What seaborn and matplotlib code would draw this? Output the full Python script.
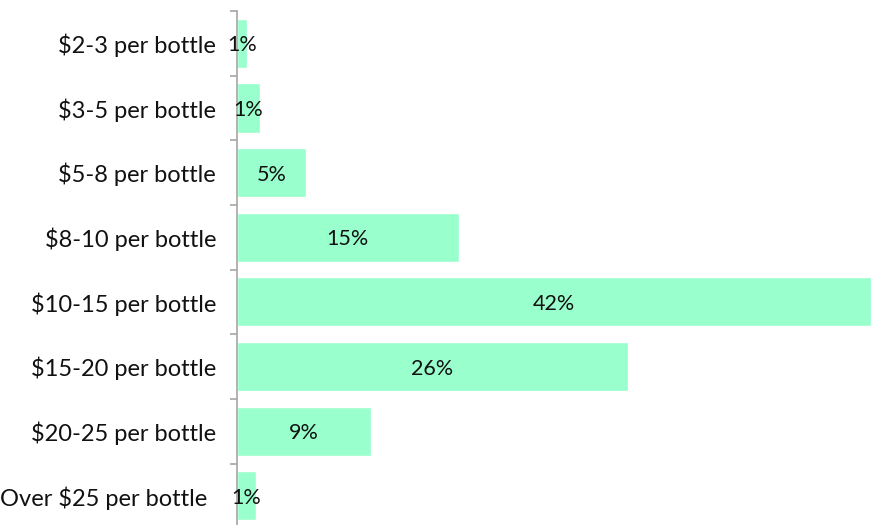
import matplotlib
matplotlib.use("Agg")
import matplotlib.pyplot as plt
import matplotlib.transforms as mtransforms
import pandas as pd
import seaborn as sns
from matplotlib.ticker import FixedLocator

# Data (bar lengths in %, labels as printed)
categories = ['$2-3 per bottle', '$3-5 per bottle', '$5-8 per bottle', '$8-10 per bottle',
              '$10-15 per bottle', '$15-20 per bottle', '$20-25 per bottle', 'Over $25 per bottle']
shares = [0.66, 1.5, 4.6, 14.7, 42.0, 25.9, 8.9, 1.26]
share_labels = ['1%', '1%', '5%', '15%', '42%', '26%', '9%', '1%']

df = pd.DataFrame({'Price': categories, 'Share': shares})

sns.set_theme(style="white")
plt.rcParams['font.family'] = ['Lato', 'DejaVu Sans']

fig = plt.figure(figsize=(8.71, 5.25), dpi=100)
ax = fig.add_axes([0.272, -0.006, 0.728, 0.985])

sns.barplot(data=df, x='Share', y='Price', color='#99FFCC', saturation=1,
            width=0.76, ax=ax)

for p, lab in zip(ax.patches, share_labels):
    ax.text(p.get_x() + p.get_width() / 2, p.get_y() + p.get_height() / 2, lab,
            ha='center', va='center_baseline', fontsize=15.5, color='#111111')

ax.set_xlim(0, 42)
ax.set_ylim(len(categories) - 0.5, -0.5)
ax.set_xlabel('')
ax.set_ylabel('')
ax.set_xticks([])

for s in ['top', 'right', 'bottom']:
    ax.spines[s].set_visible(False)
ax.spines['left'].set_color('#a6a6a6')
ax.spines['left'].set_linewidth(1.2)

ax.tick_params(axis='y', which='major', length=0, pad=15, labelsize=17, labelcolor='#111111')
ax.yaxis.set_minor_locator(FixedLocator([i - 0.5 for i in range(len(categories) + 1)]))
ax.tick_params(axis='y', which='minor', left=True, length=5, width=1.2, color='#a6a6a6')

# the last category label sits a little further left in the original
last = ax.get_yticklabels()[-1]
last.set_transform(last.get_transform() + mtransforms.ScaledTranslation(-0.09, 0, fig.dpi_scale_trans))

fig.savefig('out.png', dpi=100)
